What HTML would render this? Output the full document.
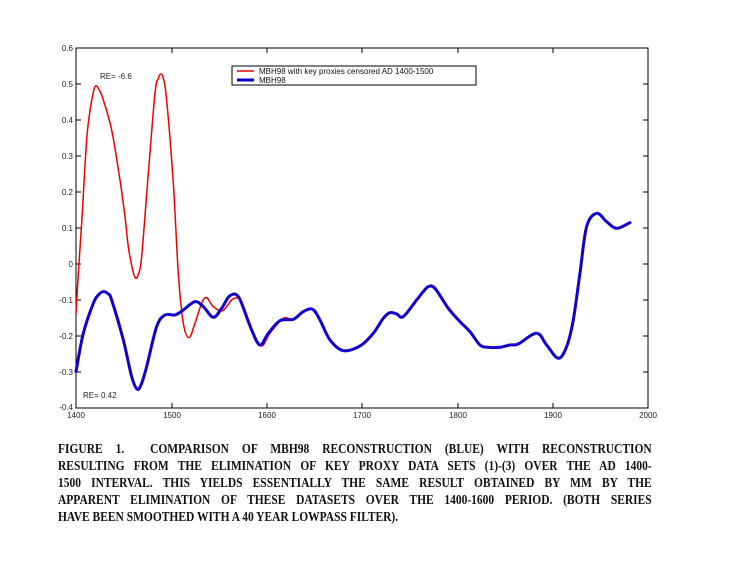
<!DOCTYPE html>
<html><head><meta charset="utf-8"><style>
html,body{margin:0;padding:0;background:#fff;width:735px;height:568px;overflow:hidden}
.cap{position:absolute;left:58px;top:441px;width:724px;font:bold 14px "Liberation Serif",serif;line-height:17px;color:#111;transform:scaleX(0.82);transform-origin:0 0}
.cap div{text-align:justify;text-align-last:justify;white-space:nowrap}
.cap div.l{text-align-last:left}
</style></head><body>
<svg width="735" height="568" style="position:absolute;left:0;top:0" font-family="Liberation Sans, sans-serif">
<rect x="76" y="48" width="572" height="360" fill="none" stroke="#000" stroke-width="1"/>
<g stroke="#000" stroke-width="1">
<line x1="172" y1="48" x2="172" y2="53"/><line x1="267" y1="48" x2="267" y2="53"/><line x1="362" y1="48" x2="362" y2="53"/><line x1="458" y1="48" x2="458" y2="53"/><line x1="553" y1="48" x2="553" y2="53"/>
<line x1="172" y1="408" x2="172" y2="403"/><line x1="267" y1="408" x2="267" y2="403"/><line x1="362" y1="408" x2="362" y2="403"/><line x1="458" y1="408" x2="458" y2="403"/><line x1="553" y1="408" x2="553" y2="403"/>
<line x1="76" y1="84" x2="81" y2="84"/><line x1="76" y1="120" x2="81" y2="120"/><line x1="76" y1="156" x2="81" y2="156"/><line x1="76" y1="192" x2="81" y2="192"/><line x1="76" y1="228" x2="81" y2="228"/><line x1="76" y1="264" x2="81" y2="264"/><line x1="76" y1="300" x2="81" y2="300"/><line x1="76" y1="336" x2="81" y2="336"/><line x1="76" y1="372" x2="81" y2="372"/>
<line x1="648" y1="84" x2="643" y2="84"/><line x1="648" y1="120" x2="643" y2="120"/><line x1="648" y1="156" x2="643" y2="156"/><line x1="648" y1="192" x2="643" y2="192"/><line x1="648" y1="228" x2="643" y2="228"/><line x1="648" y1="264" x2="643" y2="264"/><line x1="648" y1="300" x2="643" y2="300"/><line x1="648" y1="336" x2="643" y2="336"/><line x1="648" y1="372" x2="643" y2="372"/>
</g>
<g font-size="8" fill="#222" text-anchor="end">
<text x="73" y="51">0.6</text><text x="73" y="87">0.5</text><text x="73" y="123">0.4</text><text x="73" y="159">0.3</text><text x="73" y="195">0.2</text><text x="73" y="231">0.1</text><text x="73" y="267">0</text><text x="73" y="303">-0.1</text><text x="73" y="339">-0.2</text><text x="73" y="375">-0.3</text><text x="73" y="410">-0.4</text>
</g>
<g font-size="8" fill="#222" text-anchor="middle">
<text x="76" y="418">1400</text><text x="172" y="418">1500</text><text x="267" y="418">1600</text><text x="362" y="418">1700</text><text x="458" y="418">1800</text><text x="553" y="418">1900</text><text x="648" y="418">2000</text>
</g>
<text x="100" y="79" font-size="8" fill="#222">RE= -6.6</text>
<text x="83" y="398" font-size="8" fill="#222">RE= 0.42</text>
<rect x="232" y="66" width="244" height="19" fill="#fff" stroke="#000" stroke-width="1"/>
<line x1="237" y1="71" x2="254" y2="71" stroke="#d00" stroke-width="1.5"/>
<line x1="237" y1="80" x2="254" y2="80" stroke="#00c" stroke-width="3"/>
<text x="259" y="74" font-size="8" fill="#111">MBH98 with key proxies censored AD 1400-1500</text>
<text x="259" y="83" font-size="8" fill="#111">MBH98</text>
<g transform="translate(40,40) scale(0.3333)" fill="none" stroke-linejoin="round" stroke-linecap="round">
<polyline class="sm" stroke="#e00" stroke-width="4.5" points="108,820 115,700 125,550 140,300 152,200 165,140 178,150 190,180 215,270 240,420 255,530 265,620 278,690 287,715 296,700 305,650 325,400 345,160 355,115 362,102 370,115 380,180 400,430 415,700 430,850 447,893 465,850 485,790 500,773 520,800 548,812 575,780 595,775 610,800 640,880 665,918 690,880 730,835 760,838 790,815"/>
<polyline class="sm" stroke="#10c" stroke-width="9" points="108,995 130,880 160,790 175,765 190,755 205,762 215,780 250,900 275,1010 292,1048 305,1030 320,980 350,860 375,825 405,825 430,810 465,785 490,800 520,832 545,805 565,772 583,762 595,770 605,790 635,870 660,915 685,880 720,842 760,838 790,815 818,808 840,840 870,900 910,932 960,918 1000,880 1030,835 1050,818 1070,822 1090,830 1130,780 1150,755 1165,740 1185,745 1225,805 1260,845 1290,875 1320,915 1345,922 1380,922 1410,915 1435,912 1490,880 1520,915 1555,955 1580,920 1600,840 1620,700 1640,560 1670,520 1700,545 1730,565 1770,548"/>
</g>
</svg>
<div class="cap">
<div>FIGURE 1.&nbsp; COMPARISON OF MBH98 RECONSTRUCTION (BLUE) WITH RECONSTRUCTION</div>
<div>RESULTING FROM THE ELIMINATION OF KEY PROXY DATA SETS (1)-(3) OVER THE AD 1400-</div>
<div>1500 INTERVAL. THIS YIELDS ESSENTIALLY THE SAME RESULT OBTAINED BY MM BY THE</div>
<div>APPARENT ELIMINATION OF THESE DATASETS OVER THE 1400-1600 PERIOD. (BOTH SERIES</div>
<div class="l">HAVE BEEN SMOOTHED WITH A 40 YEAR LOWPASS FILTER).</div>
</div>
<script>
document.querySelectorAll('polyline.sm').forEach(function(pl){
  var p=pl.getAttribute('points').trim().split(/\s+/).map(function(s){return s.split(',').map(Number);});
  var d='M'+p[0][0]+','+p[0][1];
  for(var i=0;i<p.length-1;i++){
    var p0=p[i-1]||p[i],p1=p[i],p2=p[i+1],p3=p[i+2]||p2;
    var c1x=p1[0]+(p2[0]-p0[0])/6,c1y=p1[1]+(p2[1]-p0[1])/6;
    var c2x=p2[0]-(p3[0]-p1[0])/6,c2y=p2[1]-(p3[1]-p1[1])/6;
    d+=' C'+c1x+','+c1y+' '+c2x+','+c2y+' '+p2[0]+','+p2[1];
  }
  var path=document.createElementNS('http://www.w3.org/2000/svg','path');
  path.setAttribute('d',d);
  path.setAttribute('stroke',pl.getAttribute('stroke'));
  path.setAttribute('stroke-width',pl.getAttribute('stroke-width'));
  pl.parentNode.replaceChild(path,pl);
});
</script>
</body></html>
